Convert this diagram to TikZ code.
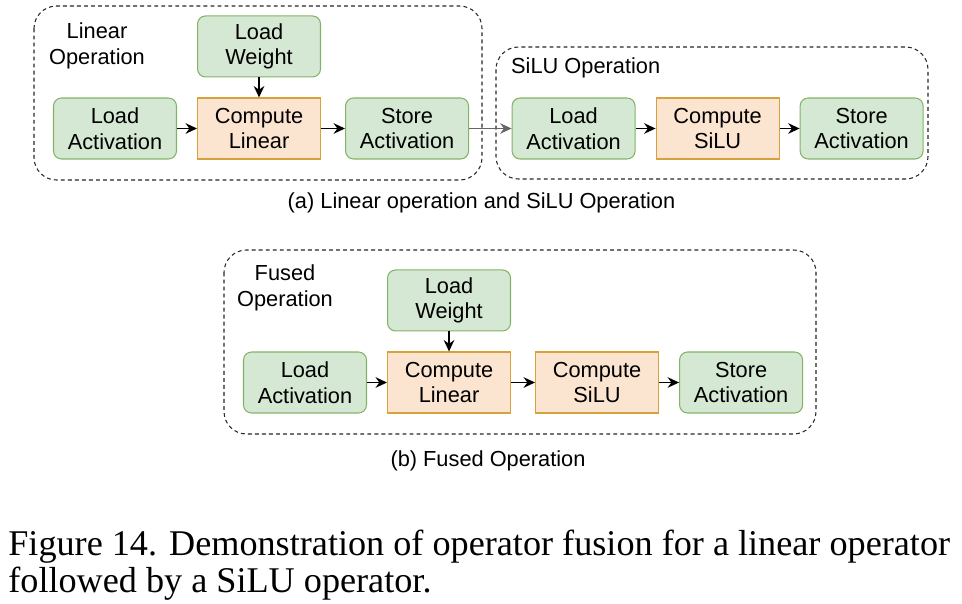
\documentclass[tikz,border=0pt]{standalone}
\usepackage{fontspec}
\setmainfont{Liberation Serif}
\setsansfont{Liberation Sans}
\usetikzlibrary{positioning, arrows.meta}
\definecolor{memfill}{HTML}{D5E8D4}
\definecolor{memline}{HTML}{82B366}
\definecolor{compfill}{HTML}{FCE5D0}
\definecolor{compline}{HTML}{D7A23C}
\tikzset{
  memop/.style={rectangle, rounded corners=0.16cm, minimum width=2.46cm, minimum height=1.22cm, text centered, align=center, draw=memline, fill=memfill, line width=0.6pt, font=\sffamily\fontsize{12.4}{14.5}\selectfont},
  computeop/.style={rectangle, minimum width=2.46cm, minimum height=1.22cm, text centered, align=center, draw=compline, fill=compfill, line width=0.6pt, font=\sffamily\fontsize{12.4}{14.5}\selectfont},
  groupbox/.style={draw=black!85, dash pattern=on 2.2pt off 1.8pt, rounded corners=0.45cm, line width=0.6pt},
  grouptitle/.style={align=center, font=\sffamily\fontsize{12.4}{14.5}\selectfont},
  subcap/.style={font=\sffamily\fontsize{12.4}{14.5}\selectfont},
  arrow/.style={line width=0.9pt, ->, >={Stealth[length=6.5pt, width=6pt]}},
  linkarrow/.style={line width=0.6pt, draw=black!60, ->, >={Stealth[length=6.5pt, width=6pt]}}
}
\begin{document}
\begin{tikzpicture}[x=0.02cm, y=-0.02cm]
  \useasboundingbox (0,0) rectangle (962,604);

  % (a) linear and silu as two operations
  \draw [groupbox] (34,6) rectangle (482,180);
  \draw [groupbox] (496,47) rectangle (928,179);
  \node (linname) [grouptitle] at (97,46) {Linear\\Operation};
  \node (siluname) [grouptitle, anchor=west] at (505,68) {SiLU Operation};

  \node (la1) [memop] at (115,128.5) {Load\\Activation};
  \node (cl1) [computeop, right=0.4cm of la1] {Compute\\Linear};
  \node (lw1) [memop, above=0.4cm of cl1] {Load\\Weight};
  \node (sa1) [memop, right=0.48cm of cl1] {Store\\Activation};
  \node (la2) [memop, right=0.85cm of sa1] {Load\\Activation};
  \node (cs2) [computeop, right=0.4cm of la2] {Compute\\SiLU};
  \node (sa2) [memop, right=0.4cm of cs2] {Store\\Activation};

  \draw [arrow] (la1) -- (cl1);
  \draw [arrow] (lw1) -- (cl1);
  \draw [arrow] (cl1) -- (sa1);
  \draw [linkarrow] (sa1) -- (la2);
  \draw [arrow] (la2) -- (cs2);
  \draw [arrow] (cs2) -- (sa2);

  \node (capa) [subcap] at (481.5,203) {(a) Linear operation and SiLU Operation};

  % (b) fused
  \draw [groupbox] (224,250) rectangle (816,434);
  \node (fusename) [grouptitle] at (285,288) {Fused\\Operation};

  \node (la3) [memop] at (305,382.5) {Load\\Activation};
  \node (cl3) [computeop, right=0.4cm of la3] {Compute\\Linear};
  \node (lw3) [memop, above=0.4cm of cl3] {Load\\Weight};
  \node (cs3) [computeop, right=0.48cm of cl3] {Compute\\SiLU};
  \node (sa3) [memop, right=0.4cm of cs3] {Store\\Activation};

  \draw [arrow] (la3) -- (cl3);
  \draw [arrow] (lw3) -- (cl3);
  \draw [arrow] (cl3) -- (cs3);
  \draw [arrow] (cs3) -- (sa3);

  \node (capb) [subcap] at (488,461) {(b) Fused Operation};

  % figure caption, base is the second line
  \node (figcap) [anchor=base west, align=left, inner sep=0pt, font=\rmfamily\fontsize{20.6}{21}\selectfont] at (8,592)
    {Figure 14. Demonstration of operator fusion for a linear operator\\followed by a SiLU operator.};
\end{tikzpicture}
\end{document}
